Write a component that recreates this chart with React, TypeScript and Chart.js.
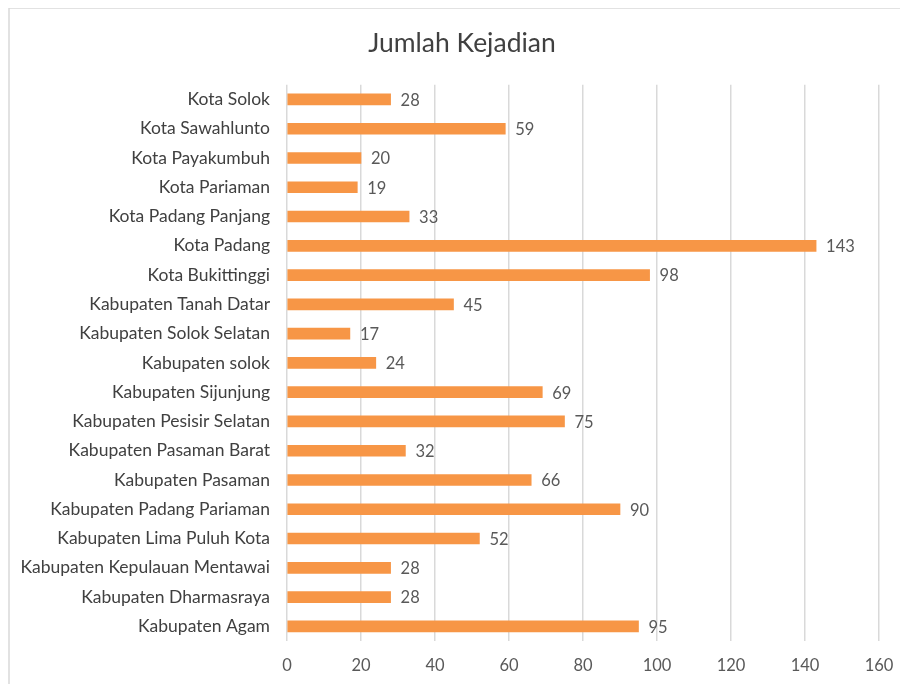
import React, { useEffect, useRef } from "react";
import { Chart, registerables } from "chart.js";

Chart.register(...registerables);

const categories = [
  "Kota Solok",
  "Kota Sawahlunto",
  "Kota Payakumbuh",
  "Kota Pariaman",
  "Kota Padang Panjang",
  "Kota Padang",
  "Kota Bukittinggi",
  "Kabupaten Tanah Datar",
  "Kabupaten Solok Selatan",
  "Kabupaten solok",
  "Kabupaten Sijunjung",
  "Kabupaten Pesisir Selatan",
  "Kabupaten Pasaman Barat",
  "Kabupaten Pasaman",
  "Kabupaten Padang Pariaman",
  "Kabupaten Lima Puluh Kota",
  "Kabupaten Kepulauan Mentawai",
  "Kabupaten Dharmasraya",
  "Kabupaten Agam",
];
const values = [28, 59, 20, 19, 33, 143, 98, 45, 17, 24, 69, 75, 32, 66, 90, 52, 28, 28, 95];
const seriesName = "Jumlah Kejadian";
const xMin = 0;
const xMax = 160;
const xStep = 20;

const FONT = "Lato, 'Open Sans', sans-serif";

const dataLabelPlugin = {
  id: "dataLabels",
  afterDatasetsDraw(chart: any) {
    const ctx = chart.ctx;
    const meta = chart.getDatasetMeta(0);
    ctx.save();
    ctx.fillStyle = "#595959";
    ctx.font = `16.5px ${FONT}`;
    ctx.textAlign = "left";
    ctx.textBaseline = "middle";
    meta.data.forEach((el: any, i: number) => {
      ctx.fillText(String(values[i]), el.x + 10, el.y + 1);
    });
    ctx.restore();
  },
};

const borderPlugin = {
  id: "frame",
  beforeDraw(chart: any) {
    const ctx = chart.ctx;
    ctx.save();
    ctx.fillStyle = "#ffffff";
    ctx.fillRect(0, 0, chart.width, chart.height);
    ctx.strokeStyle = "#d9d9d9";
    ctx.lineWidth = 1.5;
    ctx.beginPath();
    ctx.moveTo(1, chart.height);
    ctx.lineTo(1, 0);
    ctx.lineTo(chart.width, 0);
    ctx.stroke();
    ctx.restore();
  },
};

export default function App() {
  const ref = useRef<HTMLCanvasElement>(null);
  useEffect(() => {
    document.body.style.overflow = "hidden";
    const chart = new Chart(ref.current!, {
      type: "bar",
      data: {
        labels: categories,
        datasets: [
          {
            label: seriesName,
            data: values,
            backgroundColor: "#F79646",
            borderWidth: 0,
            barThickness: 11,
          },
        ],
      },
      options: {
        indexAxis: "y",
        responsive: false,
        animation: false,
        layout: { padding: { left: 0, right: 0, top: 0, bottom: 0 } },
        plugins: {
          legend: { display: false },
          tooltip: { enabled: false },
          title: {
            display: true,
            text: seriesName,
            color: "#404040",
            font: { family: FONT, size: 26.5, weight: "normal" },
            padding: { top: 20, bottom: 25 },
          },
        },
        scales: {
          x: {
            min: xMin,
            max: xMax,
            ticks: {
              stepSize: xStep,
              color: "#595959",
              font: { family: FONT, size: 16.5 },
              padding: 15,
            },
            grid: { color: "#d9d9d9", lineWidth: 1.5, drawTicks: false },
            border: { display: false },
            afterFit(scale: any) {
              scale.height = 43;
            },
          },
          y: {
            ticks: {
              color: "#404040",
              font: { family: FONT, size: 17.5 },
              padding: 17,
              autoSkip: false,
            },
            grid: { display: false, drawTicks: false },
            border: { display: false },
            afterFit(scale: any) {
              scale.width = 279;
            },
          },
          yRight: {
            type: "category",
            position: "right",
            display: true,
            ticks: { display: false },
            grid: { display: false, drawTicks: false },
            border: { display: false },
            afterFit(scale: any) {
              scale.width = 37;
            },
          },
        },
      },
      plugins: [borderPlugin, dataLabelPlugin],
    });
    return () => chart.destroy();
  }, []);
  return (
    <div style={{ width: 900, height: 676, overflow: "visible" }}>
      <canvas ref={ref} width={908} height={676} style={{ display: "block" }} />
    </div>
  );
}
